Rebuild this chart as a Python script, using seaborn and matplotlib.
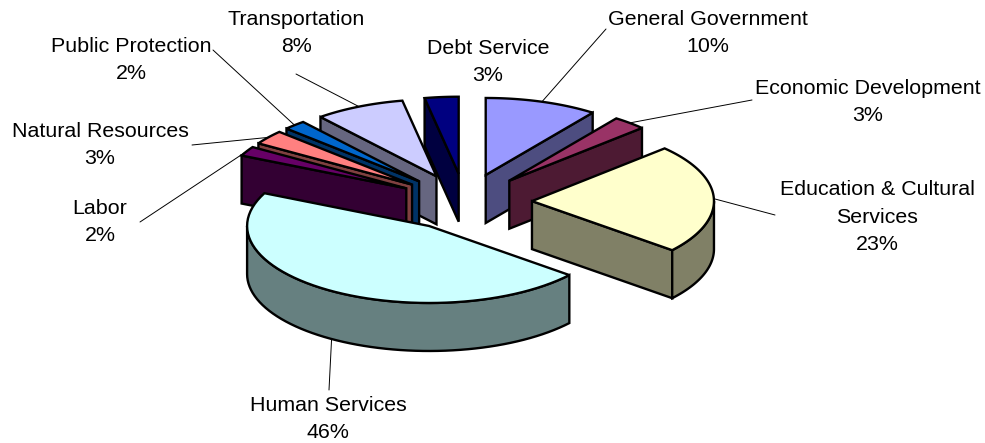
import numpy as np
import matplotlib
matplotlib.use('Agg')
import matplotlib.pyplot as plt
from matplotlib.patches import Polygon
import seaborn as sns

# slices, clockwise from 12 o'clock
names = ['General Government', 'Economic Development', 'Education & Cultural\nServices',
         'Human Services', 'Labor', 'Natural Resources', 'Public Protection',
         'Transportation', 'Debt Service']
shares = [10, 3, 23, 46, 2, 3, 2, 8, 3]
top_colors = ['#9999FF', '#993366', '#FFFFCC', '#CCFFFF', '#660066',
              '#FF8080', '#0066CC', '#CCCCFF', '#000080']
wall_colors = ['#4D4D80', '#4D1A33', '#808066', '#668080', '#330033',
               '#804040', '#003366', '#666680', '#000040']
draw_order = [8, 7, 6, 5, 4, 0, 1, 2, 3]

# label centre and where the leader line ends, one per slice
label_xy = [(708, 33), (868, 102), (877, 217), (328, 419), (100, 222),
            (100, 145), (131, 60), (296, 33), (488, 62)]
leader_end = [(606, 29), (752, 100), (775, 215), (329, 390), (140, 222),
              (192, 145), (213, 50), (296, 74), None]

# pie geometry in pixels
cx, cy = 465, 202
rx, ry = 182, 77
depth = 48
explode = 67
squash = 0.424

sns.set_theme(style='white')
plt.rcParams['font.family'] = ['Liberation Sans', 'DejaVu Sans']

fig = plt.figure(figsize=(9.85, 4.43), dpi=100)
ax = fig.add_axes([0, 0, 1, 1])
ax.set_xlim(0, 985)
ax.set_ylim(443, 0)
ax.set_axis_off()

edges = np.radians(np.concatenate([[0], np.cumsum(shares)]) * 3.6)


def apex(mid):
    return cx + explode * np.sin(mid), cy - explode * squash * np.cos(mid)


def rim(x0, y0, ang):
    return x0 + rx * np.sin(ang), y0 - ry * np.cos(ang)


def face(pts, color):
    ax.add_patch(Polygon(pts, closed=True, facecolor=color, edgecolor='black',
                         linewidth=1.7, joinstyle='miter'))


def radial_wall(x0, y0, ang, color):
    xr, yr = rim(x0, y0, ang)
    face([(x0, y0), (xr, yr), (xr, yr + depth), (x0, y0 + depth)], color)


for i in draw_order:
    a, b = edges[i], edges[i + 1]
    x0, y0 = apex((a + b) / 2)
    if np.sin(a) < -1e-6:
        radial_wall(x0, y0, a, wall_colors[i])
    if np.sin(b) > 1e-6:
        radial_wall(x0, y0, b, wall_colors[i])
    # outer wall only on the part of the rim that faces us
    lo, hi = max(a, np.pi / 2), min(b, 3 * np.pi / 2)
    if hi > lo:
        t = np.linspace(lo, hi, 60)
        xs, ys = rim(x0, y0, t)
        upper = list(zip(xs, ys))
        lower = list(zip(xs[::-1], ys[::-1] + depth))
        face(upper + lower, wall_colors[i])
    t = np.linspace(a, b, 60)
    xs, ys = rim(x0, y0, t)
    face([(x0, y0)] + list(zip(xs, ys)), top_colors[i])

for i, name in enumerate(names):
    ax.text(label_xy[i][0], label_xy[i][1], f'{name}\n{shares[i]}%', ha='center', va='center',
            fontsize=15.4, color='black', linespacing=1.55)
    if leader_end[i] is None:
        continue
    mid = (edges[i] + edges[i + 1]) / 2
    xs, ys = rim(*apex(mid), mid)
    if np.cos(mid) < 0 and np.sin(mid) < 0.9:
        ys += depth
    ax.plot([xs, leader_end[i][0]], [ys, leader_end[i][1]], color='black', lw=0.7, zorder=0.5)

fig.savefig('out.png', dpi=100)
